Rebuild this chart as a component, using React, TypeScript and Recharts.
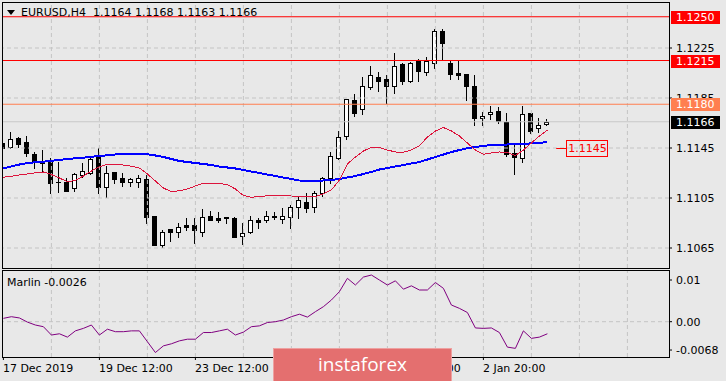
import React from "react";
import {Bar, ComposedChart, Line, ReferenceDot, ReferenceLine, XAxis, YAxis} from "recharts";

// EURUSD H4 candles
const opens = [
    1.1149, 1.1146, 1.1153, 1.1150, 1.1140, 1.1134, 1.1134, 1.1118, 1.1118, 1.1113,
    1.1123, 1.1125, 1.1138, 1.1114, 1.1126, 1.1121, 1.1118, 1.1118, 1.1120, 1.1091,
    1.1067, 1.1080, 1.1078, 1.1083, 1.1083, 1.1078, 1.1091, 1.1089, 1.1090, 1.1089,
    1.1075, 1.1078, 1.1087, 1.1087, 1.1091, 1.1088, 1.1090, 1.1098, 1.1102, 1.1098,
    1.1109, 1.1121, 1.1137, 1.1155, 1.1183, 1.1176, 1.1194, 1.1202, 1.1200, 1.1195,
    1.1212, 1.1199, 1.1215, 1.1206, 1.1213, 1.1239, 1.1213, 1.1205, 1.1204, 1.1195,
    1.1169, 1.1172, 1.1175, 1.1166, 1.1141, 1.1137, 1.1173, 1.1161, 1.1164,
];
const highs = [
    1.1175, 1.1158, 1.1154, 1.1155, 1.1142, 1.1143, 1.1137, 1.1134, 1.1121, 1.1125,
    1.1133, 1.1138, 1.1145, 1.1131, 1.1126, 1.1125, 1.1121, 1.1123, 1.1123, 1.1091,
    1.1079, 1.1080, 1.1085, 1.1089, 1.1089, 1.1096, 1.1095, 1.1094, 1.1090, 1.1090,
    1.1085, 1.1091, 1.1089, 1.1095, 1.1094, 1.1097, 1.1099, 1.1106, 1.1109, 1.1111,
    1.1122, 1.1142, 1.1159, 1.1184, 1.1188, 1.1202, 1.1211, 1.1206, 1.1203, 1.1221,
    1.1213, 1.1214, 1.1216, 1.1218, 1.1240, 1.1240, 1.1215, 1.1215, 1.1204, 1.1203,
    1.1174, 1.1179, 1.1178, 1.1173, 1.1149, 1.1179, 1.1173, 1.1169, 1.1168,
];
const lows = [
    1.1143, 1.1145, 1.1146, 1.1139, 1.1129, 1.1126, 1.1109, 1.1110, 1.1111, 1.1111,
    1.1122, 1.1124, 1.1109, 1.1106, 1.1117, 1.1115, 1.1115, 1.1114, 1.1085, 1.1067,
    1.1066, 1.1071, 1.1074, 1.1079, 1.1069, 1.1075, 1.1087, 1.1086, 1.1085, 1.1074,
    1.1068, 1.1077, 1.1081, 1.1086, 1.1088, 1.1085, 1.1081, 1.1089, 1.1094, 1.1094,
    1.1107, 1.1117, 1.1136, 1.1152, 1.1171, 1.1172, 1.1192, 1.1191, 1.1181, 1.1189,
    1.1196, 1.1198, 1.1199, 1.1203, 1.1209, 1.1216, 1.1200, 1.1200, 1.1183, 1.1163,
    1.1163, 1.1168, 1.1165, 1.1139, 1.1124, 1.1134, 1.1157, 1.1158, 1.1163,
];
const closes = [
    1.1145, 1.1152, 1.1148, 1.1141, 1.1134, 1.1133, 1.1117, 1.1118, 1.1111, 1.1124,
    1.1127, 1.1136, 1.1114, 1.1125, 1.1120, 1.1118, 1.1120, 1.1121, 1.1090, 1.1067,
    1.1078, 1.1078, 1.1082, 1.1082, 1.1079, 1.1090, 1.1087, 1.1087, 1.1089, 1.1074,
    1.1077, 1.1087, 1.1086, 1.1091, 1.1090, 1.1091, 1.1098, 1.1103, 1.1097, 1.1109,
    1.1121, 1.1139, 1.1154, 1.1184, 1.1173, 1.1195, 1.1203, 1.1199, 1.1195, 1.1211,
    1.1199, 1.1213, 1.1207, 1.1215, 1.1239, 1.1229, 1.1204, 1.1203, 1.1195, 1.1169,
    1.1171, 1.1174, 1.1167, 1.1140, 1.1138, 1.1172, 1.1159, 1.1163, 1.1166,
];

// fast MA (red) and slow MA (blue)
const maFast = [
    1.11216, 1.11224, 1.11234, 1.11242, 1.11252, 1.11258, 1.11238, 1.11210, 1.11180, 1.11190,
    1.11226, 1.11266, 1.11298, 1.11320, 1.11320, 1.11314, 1.11304, 1.11290, 1.11242, 1.11186,
    1.11130, 1.11100, 1.11108, 1.11122, 1.11146, 1.11168, 1.11168, 1.11166, 1.11158, 1.11122,
    1.11070, 1.11056, 1.11062, 1.11068, 1.11070, 1.11070, 1.11066, 1.11062, 1.11058, 1.11062,
    1.11082, 1.11114, 1.11194, 1.11322, 1.11378, 1.11426, 1.11456, 1.11454, 1.11434, 1.11418,
    1.11416, 1.11434, 1.11466, 1.11538, 1.11586, 1.11614, 1.11586, 1.11546, 1.11490, 1.11434,
    1.11400, 1.11410, 1.11418, 1.11414, 1.11390, 1.11434, 1.11490, 1.11546, 1.11594,
];
const maSlow = [
    1.11288, 1.11302, 1.11318, 1.11330, 1.11336, 1.11340, 1.11348, 1.11354, 1.11362, 1.11368,
    1.11372, 1.11380, 1.11386, 1.11392, 1.11398, 1.11402, 1.11404, 1.11405, 1.11400, 1.11390,
    1.11378, 1.11362, 1.11346, 1.11338, 1.11330, 1.11322, 1.11314, 1.11302, 1.11294, 1.11286,
    1.11274, 1.11262, 1.11250, 1.11238, 1.11226, 1.11214, 1.11202, 1.11190, 1.11186, 1.11186,
    1.11190, 1.11194, 1.11202, 1.11214, 1.11226, 1.11242, 1.11258, 1.11278, 1.11290, 1.11302,
    1.11314, 1.11326, 1.11338, 1.11358, 1.11378, 1.11398, 1.11418, 1.11434, 1.11448, 1.11458,
    1.11466, 1.11474, 1.11476, 1.11478, 1.11480, 1.11482, 1.11488, 1.11492, 1.11496,
];

const marlin = [
    0.0008, 0.0012, 0.0009, -0.0001, -0.0008, -0.0012, -0.0032, -0.0029, -0.0037, -0.0022,
    -0.0016, -0.0008, -0.0032, -0.0018, -0.0024, -0.0024, -0.0022, -0.0022, -0.0048, -0.0074,
    -0.0058, -0.0053, -0.0046, -0.0042, -0.0042, -0.0026, -0.0026, -0.0022, -0.0018, -0.0032,
    -0.0025, -0.0012, -0.0010, -0.0002, 0.0000, 0.0004, 0.0012, 0.0018, 0.0011, 0.0024,
    0.0036, 0.0052, 0.0072, 0.0104, 0.0088, 0.0107, 0.0112, 0.0100, 0.0088, 0.0098,
    0.0078, 0.0086, 0.0076, 0.0076, 0.0094, 0.0080, 0.0040, 0.0032, 0.0022, -0.0015,
    -0.0016, -0.0015, -0.0026, -0.0061, -0.0064, -0.0022, -0.0040, -0.0037, -0.0029,
];

// the 26 Dec label sits fully under the watermark in the picture
const timeTicks = [0, 12, 24, 36, 48, 60];
const timeLabels = ["17 Dec 2019", "19 Dec 12:00", "23 Dec 12:00", "", "31 Dec 20:00", "2 Jan 20:00"];
const gridSlots = [6, 12, 18, 24, 30, 36, 42, 48, 54, 60, 66, 72, 78];
const priceTicks = [1.1065, 1.1105, 1.1145, 1.1185, 1.1225];
const marlinTicks = [-0.0068, 0, 0.01];
const marlinTickLabels = ["-0.0068", "0.00", "0.01"];

const redLevels = [1.125, 1.1215];
const orangeLevel = 1.118;
const bid = 1.1166;
const target = 1.1145;

const rows = opens.map((o, i) => ({
    i,
    o,
    h: highs[i],
    l: lows[i],
    c: closes[i],
    range: [lows[i], highs[i]],
    fast: maFast[i],
    slow: maSlow[i],
    marlin: marlin[i],
}));

const BG = "#e8e8e8";
const GRID = "#c4c4c4";
const FONT = '"DejaVu Sans", sans-serif';
const X_DOMAIN: [number, number] = [-0.05, 83.2];
const P_DOMAIN: [number, number] = [1.1049, 1.1261];

function Candle(p: any) {
    const {x, y, width, height, payload} = p;
    if (x == null || !payload) return null;
    const top = Math.min(y, y + height);
    const bot = Math.max(y, y + height);
    const span = payload.h - payload.l || 1;
    const py = (v: number) => top + ((payload.h - v) / span) * (bot - top);
    const cx = Math.floor(x + width / 2) + 0.5;
    const bt = Math.round(py(Math.max(payload.o, payload.c)));
    const bb = Math.round(py(Math.min(payload.o, payload.c)));
    const up = payload.c >= payload.o;
    return (
        <g>
            <line x1={cx} x2={cx} y1={Math.round(top)} y2={Math.round(bot) + 1} stroke="#000"/>
            {bb - bt < 1
                ? <line x1={cx - 2.5} x2={cx + 2.5} y1={bt + 0.5} y2={bt + 0.5} stroke="#000"/>
                : <rect x={cx - 2} y={bt + 0.5} width={4} height={bb - bt} fill={up ? "#fff" : "#000"} stroke="#000"/>}
        </g>
    );
}

function tag(bg: string, value: number) {
    return (p: any) => {
        const vb = p.viewBox;
        if (!vb) return null;
        const x = vb.x + vb.width + 2;
        const y = Math.round(vb.y);
        return (
            <g>
                <rect x={x} y={y - 6} width={49} height={13} fill={bg}/>
                <text x={x + 5} y={vb.y} dy="0.38em" fill="#fff" fontSize={11} fontFamily={FONT}>{value.toFixed(4)}</text>
            </g>
        );
    };
}

function TargetMark(p: any) {
    const {cx, cy} = p;
    if (cx == null) return null;
    const y = Math.round(cy) + 0.5;
    return (
        <g>
            <line x1={cx} x2={cx + 10} y1={y} y2={y} stroke="#ff0000"/>
            <rect x={Math.round(cx) + 10.5} y={y - 8} width={41} height={16} fill="none" stroke="#ff0000"/>
            <text x={cx + 12} y={cy} dy="0.355em" fill="#ff0000" fontSize={11} fontFamily={FONT}>{target.toFixed(4)}</text>
        </g>
    );
}

function TimeTick(p: any) {
    const {x, y, payload} = p;
    const idx = timeTicks.indexOf(payload.value);
    if (!timeLabels[idx]) return null;
    return (
        <text x={x - 0.5} y={y + 10} fill="#000" fontSize={11} fontFamily={FONT}>{timeLabels[idx]}</text>
    );
}

export default function App() {
    return (
        <div style={{position: "absolute", left: 0, top: 0, width: 726, height: 381, background: BG, overflow: "hidden", fontFamily: FONT}}>
            <div style={{position: "absolute", left: 0, top: 0}}>
                <ComposedChart width={726} height={270} data={rows} margin={{top: 3, right: 0, bottom: 2, left: 3}}>
                    <XAxis dataKey="i" type="number" domain={X_DOMAIN} hide allowDataOverflow/>
                    <YAxis orientation="right" width={57} domain={P_DOMAIN} allowDataOverflow
                           ticks={priceTicks} interval={0} axisLine={false} tickSize={3} tickMargin={4}
                           tickLine={{stroke: "#000"}} tickFormatter={(v: number) => v.toFixed(4)}
                           tick={{fill: "#000", fontSize: 11, fontFamily: FONT}}/>
                    {gridSlots.map(k => (
                        <ReferenceLine key={"v" + k} x={k} stroke={GRID} strokeDasharray="4 3"/>
                    ))}
                    {priceTicks.map(v => (
                        <ReferenceLine key={"h" + v} y={v} stroke={GRID} strokeDasharray="4 3"/>
                    ))}
                    <ReferenceLine y={bid} stroke="#c8c8c8"/>
                    <Bar dataKey="range" barSize={5} isAnimationActive={false} shape={(p: any) => <Candle {...p}/>}/>
                    <Line dataKey="slow" stroke="#0000ff" strokeWidth={2} dot={false} isAnimationActive={false}
                          shapeRendering="crispEdges"/>
                    <Line dataKey="fast" stroke="#dc143c" strokeWidth={1} dot={false} isAnimationActive={false}
                          shapeRendering="crispEdges"/>
                    {redLevels.map(v => (
                        <ReferenceLine key={"r" + v} y={v} stroke="#ff0000"/>
                    ))}
                    <ReferenceLine y={orangeLevel} stroke="#ff7f50"/>
                    <ReferenceDot x={69.1} y={target} shape={(p: any) => <TargetMark {...p}/>}/>
                </ComposedChart>
            </div>

            {/* price tags, drawn on top of the axis labels */}
            <div style={{position: "absolute", left: 0, top: 0}}>
                <ComposedChart width={726} height={270} data={rows} margin={{top: 3, right: 0, bottom: 2, left: 3}}>
                    <XAxis dataKey="i" type="number" domain={X_DOMAIN} hide allowDataOverflow/>
                    <YAxis orientation="right" width={57} domain={P_DOMAIN} allowDataOverflow
                           tick={false} axisLine={false} tickLine={false}/>
                    <ReferenceLine y={bid} stroke="none" label={tag("#000", bid)}/>
                    {redLevels.map(v => (
                        <ReferenceLine key={"t" + v} y={v} stroke="none" label={tag("#ff0000", v)}/>
                    ))}
                    <ReferenceLine y={orangeLevel} stroke="none" label={tag("#ff7f50", orangeLevel)}/>
                </ComposedChart>
            </div>

            <div style={{position: "absolute", left: 0, top: 271}}>
                <ComposedChart width={726} height={110} data={rows} margin={{top: 0, right: 0, bottom: 0, left: 3}}>
                    <XAxis dataKey="i" type="number" domain={X_DOMAIN} allowDataOverflow height={24}
                           ticks={timeTicks} interval={0} axisLine={false} tickSize={3} tickMargin={2}
                           tickLine={{stroke: "#000"}} tick={(p: any) => <TimeTick {...p}/>}/>
                    <YAxis orientation="right" width={57} domain={[-0.00847, 0.01216]} allowDataOverflow
                           ticks={marlinTicks} interval={0} axisLine={false} tickSize={3} tickMargin={4}
                           tickLine={{stroke: "#000"}}
                           tickFormatter={(v: number) => marlinTickLabels[marlinTicks.indexOf(v)]}
                           tick={{fill: "#000", fontSize: 11, fontFamily: FONT}}/>
                    {gridSlots.map(k => (
                        <ReferenceLine key={"v" + k} x={k} stroke={GRID} strokeDasharray="4 3"/>
                    ))}
                    <ReferenceLine y={0} stroke={GRID} strokeDasharray="4 3"/>
                    <Line dataKey="marlin" stroke="#800080" strokeWidth={1} dot={false} isAnimationActive={false}/>
                </ComposedChart>
            </div>

            {/* panel frames */}
            <div style={{position: "absolute", left: 2, top: 2, width: 668, height: 267, border: "1px solid #000", boxSizing: "border-box"}}/>
            <div style={{position: "absolute", left: 2, top: 270, width: 668, height: 88, border: "1px solid #000", boxSizing: "border-box"}}/>

            <div style={{position: "absolute", left: 7, top: 6, fontSize: 11, lineHeight: "14px", color: "#000", whiteSpace: "pre", display: "flex", alignItems: "center"}}>
                <svg width={9} height={14} style={{marginRight: 5}}>
                    <polygon points="0,4 8,4 4,9" fill="#000"/>
                </svg>
                <span>{"EURUSD,H4  1.1164 1.1168 1.1163 1.1166"}</span>
            </div>
            <div style={{position: "absolute", left: 7, top: 276, fontSize: 11, lineHeight: "14px", color: "#000", whiteSpace: "pre"}}>
                Marlin -0.0026
            </div>

            <div style={{position: "absolute", left: 273, top: 348, width: 179, height: 40, background: "#e46f6f", border: "1px solid #eea0a0", boxSizing: "border-box",
                color: "#fff", fontFamily: '"Open Sans", sans-serif', fontSize: 19, lineHeight: "31px", textAlign: "center"}}>
                instaforex
            </div>
        </div>
    );
}
